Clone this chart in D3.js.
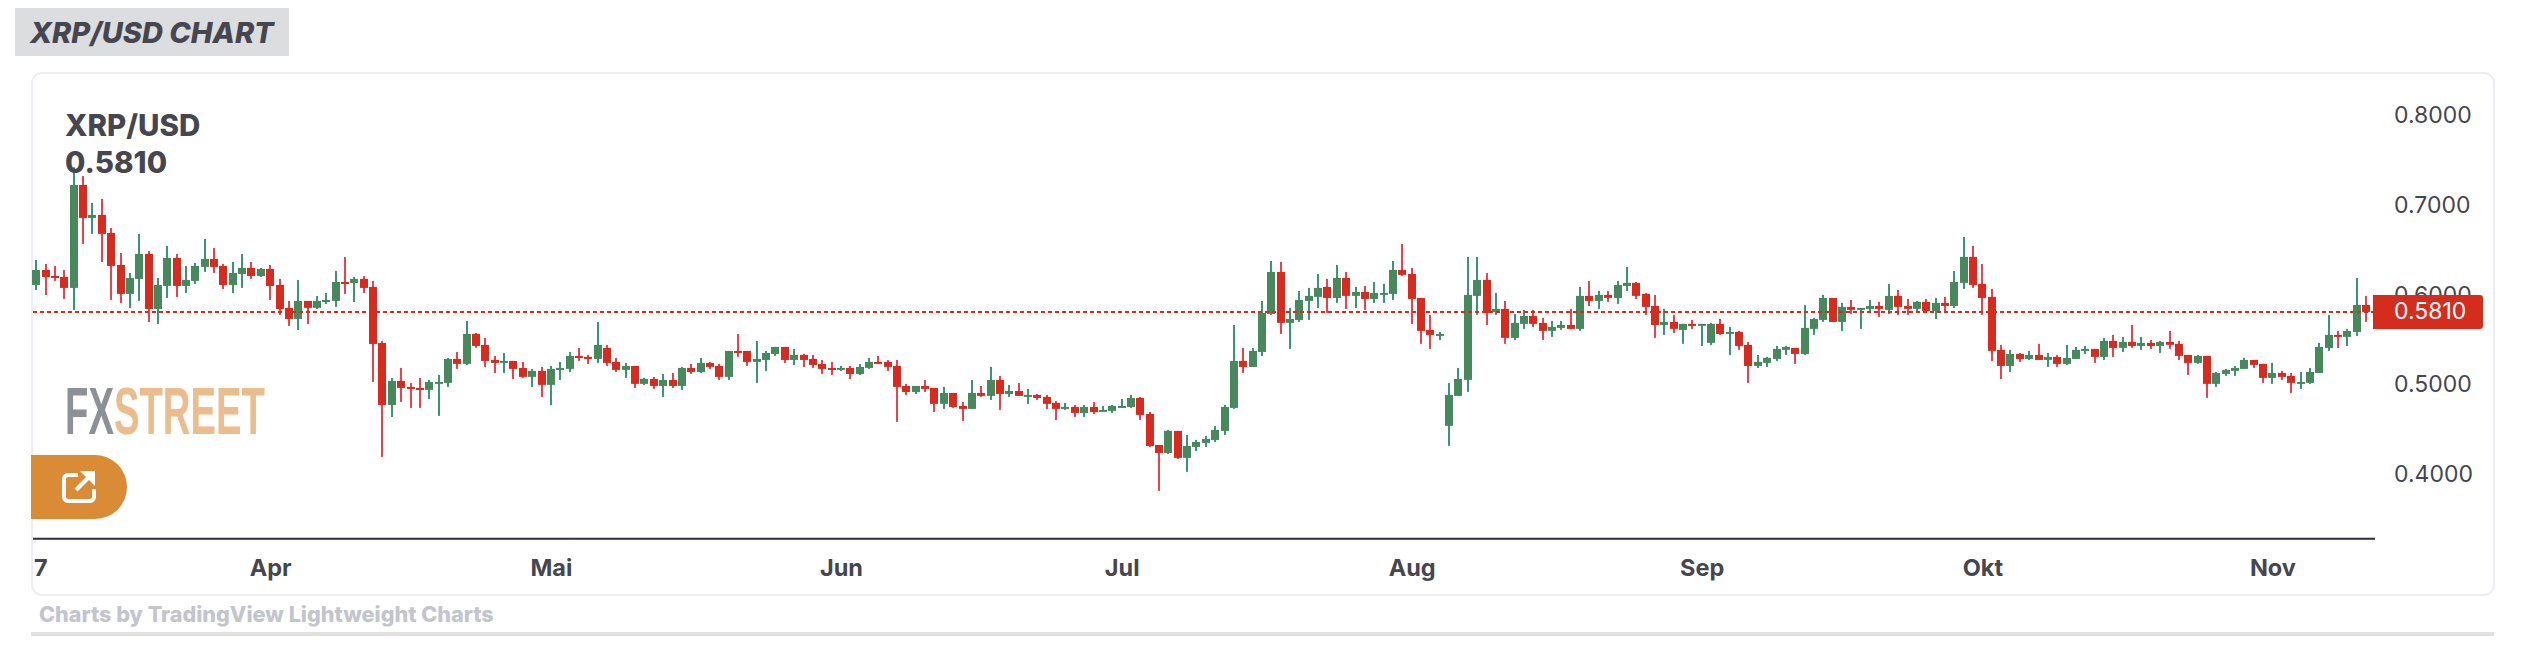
<!DOCTYPE html>
<html>
<head>
<meta charset="utf-8">
<title>XRP/USD chart</title>
<script src="https://cdn.jsdelivr.net/npm/d3@7"></script>
<style>
html,body{margin:0;padding:0;background:#fff;}
svg{display:block;}
text{font-family:Inter,"Liberation Sans",sans-serif;}
</style>
</head>
<body>
<svg width="2524" height="647"></svg>
<script>
var startDate = "2024-03-07";

// daily candles from 7 Mar
var opens = [
.6111,.6278,.6211,.6200,.6078,.7226,.6858,.6891,.6691,.6334,
.6011,.6178,.6457,.5843,.6100,.6412,.6100,.6156,.6312,.6401,
.6323,.6111,.6234,.6301,.6211,.6289,.6111,.5855,.5732,.5933,
.5855,.5921,.5933,.6144,.6133,.6178,.6089,.5464,.4773,.5041,
.4974,.4963,.4941,.5019,.5019,.5286,.5231,.5565,.5442,.5275,
.5242,.5264,.5186,.5086,.5153,.4997,.5164,.5175,.5320,.5309,
.5286,.5409,.5253,.5164,.5208,.5008,.5063,.4985,.5052,.4985,
.5186,.5141,.5242,.5208,.5086,.5375,.5375,.5253,.5275,.5342,
.5420,.5275,.5331,.5286,.5230,.5186,.5164,.5186,.5119,.5186,
.5253,.5253,.5208,.4985,.4918,.4985,.4963,.4785,.4907,.4762,
.4729,.4907,.4874,.5052,.4896,.4929,.4874,.4885,.4863,.4796,
.4729,.4751,.4684,.4751,.4707,.4707,.4751,.4751,.4851,.4673,
.4327,.4238,.4484,.4183,.4305,.4350,.4383,.4484,.4740,.5264,
.5197,.5364,.5788,.6256,.5688,.5721,.5933,.5978,.6089,.5966,
.6189,.5989,.6033,.5955,.6011,.6011,.6279,.6234,.5966,.5610,
.5554,.4540,.4874,.5052,.5989,.6167,.5810,.5844,.5521,.5677,
.5766,.5688,.5599,.5632,.5665,.5621,.5989,.5933,.6000,.5966,
.6100,.6134,.6011,.5877,.5665,.5699,.5610,.5677,.5665,.5465,
.5677,.5565,.5587,.5442,.5208,.5242,.5286,.5387,.5409,.5342,
.5621,.5721,.5966,.5699,.5866,.5833,.5844,.5877,.5833,.5989,
.5877,.5844,.5922,.5821,.5911,.5877,.6134,.6424,.6123,.5978,
.5387,.5208,.5342,.5286,.5331,.5275,.5309,.5231,.5286,.5376,
.5398,.5309,.5487,.5409,.5476,.5431,.5465,.5431,.5476,.5454,
.5331,.5242,.5320,.5008,.5119,.5153,.5175,.5275,.5231,.5075,
.5130,.5097,.5019,.5019,.5130,.5409,.5554,.5532,.5587,.5888
];
var highs = [
.6390,.6345,.6323,.6278,.7423,.7326,.7025,.7070,.6746,.6468,
.6245,.6680,.6490,.6189,.6546,.6457,.6323,.6356,.6624,.6523,
.6345,.6367,.6457,.6367,.6301,.6334,.6178,.5933,.6167,.5933,
.5988,.6022,.6267,.6423,.6200,.6211,.6156,.5487,.5074,.5186,
.5019,.5074,.5052,.5108,.5297,.5364,.5710,.5576,.5520,.5320,
.5353,.5264,.5253,.5175,.5197,.5208,.5253,.5364,.5409,.5331,
.5699,.5442,.5297,.5242,.5208,.5075,.5086,.5119,.5130,.5197,
.5231,.5297,.5253,.5231,.5375,.5565,.5375,.5487,.5375,.5420,
.5420,.5398,.5342,.5331,.5275,.5253,.5208,.5208,.5230,.5297,
.5320,.5275,.5275,.5008,.4985,.5052,.4963,.4974,.4907,.4807,
.5052,.4985,.5197,.5097,.4996,.5019,.4952,.4896,.4885,.4818,
.4796,.4773,.4773,.4807,.4762,.4773,.4840,.4885,.4863,.4695,
.4327,.4495,.4484,.4439,.4383,.4428,.4539,.4774,.5665,.5409,
.5409,.5933,.6379,.6368,.5855,.6044,.6078,.6234,.6178,.6334,
.6256,.6089,.6100,.6145,.6123,.6379,.6568,.6301,.5966,.5777,
.5587,.5017,.5186,.6424,.6424,.6245,.6022,.5933,.5788,.5833,
.5833,.5744,.5710,.5710,.5844,.6089,.6156,.6044,.6044,.6156,
.6312,.6145,.6022,.6000,.5844,.5777,.5677,.5721,.5665,.5688,
.5732,.5643,.5599,.5476,.5331,.5309,.5431,.5431,.5409,.5888,
.5744,.6000,.5966,.5911,.5944,.5855,.5944,.5922,.6123,.6056,
.5955,.5933,.5955,.5966,.5978,.6267,.6646,.6546,.6345,.6067,
.5443,.5387,.5353,.5376,.5454,.5353,.5331,.5443,.5420,.5431,
.5398,.5521,.5554,.5532,.5665,.5532,.5498,.5487,.5599,.5487,
.5331,.5331,.5320,.5142,.5175,.5208,.5298,.5275,.5231,.5242,
.5153,.5130,.5141,.5186,.5465,.5777,.5598,.5621,.6189,.5989
];
var lows = [
.6055,.5999,.6156,.5955,.5832,.6568,.6680,.6367,.5944,.5910,
.5855,.5933,.5698,.5676,.5966,.5977,.6022,.6122,.6256,.6245,
.6066,.6022,.6078,.6178,.6200,.5944,.5777,.5654,.5609,.5676,
.5843,.5899,.5866,.6011,.5921,.6022,.5030,.4194,.4639,.4807,
.4740,.4740,.4840,.4651,.4974,.5175,.5219,.5409,.5197,.5130,
.5130,.5063,.5075,.4974,.4863,.4773,.5052,.5141,.5264,.5231,
.5242,.5208,.5141,.5075,.4963,.4996,.4952,.4863,.4963,.4941,
.5119,.5130,.5175,.5052,.5052,.5309,.5208,.5019,.5153,.5320,
.5242,.5219,.5197,.5186,.5119,.5108,.5152,.5063,.5108,.5175,
.5230,.5152,.4584,.4885,.4896,.4918,.4695,.4729,.4740,.4595,
.4729,.4863,.4829,.4718,.4863,.4874,.4785,.4829,.4729,.4606,
.4718,.4640,.4640,.4673,.4707,.4684,.4740,.4740,.4606,.4305,
.3815,.4227,.4171,.4027,.4261,.4305,.4361,.4439,.4729,.5130,
.5197,.5320,.5777,.5565,.5398,.5699,.5721,.5855,.5799,.5911,
.5844,.5855,.5833,.5911,.5911,.5944,.6212,.5677,.5454,.5398,
.5498,.4317,.4874,.4919,.5777,.5665,.5777,.5454,.5498,.5621,
.5643,.5498,.5532,.5610,.5621,.5599,.5877,.5844,.5922,.5900,
.6044,.5955,.5777,.5521,.5554,.5576,.5454,.5621,.5431,.5442,
.5554,.5331,.5387,.5019,.5186,.5197,.5264,.5331,.5231,.5331,
.5554,.5699,.5699,.5599,.5788,.5621,.5810,.5755,.5788,.5777,
.5777,.5810,.5810,.5732,.5821,.5855,.6067,.6078,.5777,.5264,
.5063,.5142,.5253,.5275,.5275,.5197,.5197,.5220,.5286,.5342,
.5242,.5275,.5309,.5364,.5409,.5387,.5398,.5353,.5398,.5275,
.5108,.5231,.4852,.4974,.5097,.5097,.5175,.5186,.5019,.5008,
.5052,.4907,.4952,.5008,.5130,.5376,.5409,.5431,.5543,.5699
];
var closes = [
.6278,.6200,.6189,.6078,.7226,.6858,.6891,.6680,.6323,.6011,
.6189,.6457,.5843,.6111,.6412,.6100,.6167,.6323,.6401,.6312,
.6111,.6245,.6301,.6211,.6289,.6100,.5843,.5732,.5933,.5855,
.5933,.5944,.6144,.6133,.6178,.6078,.5453,.4773,.5041,.4963,
.4952,.4940,.5030,.5030,.5286,.5231,.5565,.5431,.5264,.5242,
.5264,.5175,.5086,.5153,.4997,.5175,.5186,.5320,.5297,.5286,
.5442,.5242,.5164,.5208,.5008,.5063,.4985,.5052,.4985,.5186,
.5141,.5242,.5197,.5086,.5375,.5364,.5253,.5286,.5353,.5420,
.5275,.5331,.5275,.5219,.5175,.5164,.5186,.5119,.5197,.5253,
.5242,.5197,.4974,.4918,.4985,.4952,.4785,.4907,.4751,.4729,
.4907,.4874,.5052,.4896,.4929,.4874,.4885,.4851,.4785,.4729,
.4751,.4684,.4751,.4695,.4718,.4762,.4762,.4851,.4662,.4316,
.4238,.4484,.4183,.4316,.4361,.4394,.4495,.4751,.5264,.5197,
.5376,.5799,.6256,.5688,.5732,.5944,.5989,.6078,.5966,.6189,
.5989,.6033,.5955,.6022,.6022,.6279,.6223,.5955,.5599,.5554,
.5565,.4885,.5063,.6000,.6167,.5799,.5844,.5521,.5688,.5766,
.5677,.5599,.5643,.5665,.5621,.5989,.5933,.6000,.5966,.6111,
.6134,.5989,.5866,.5665,.5699,.5621,.5677,.5654,.5677,.5677,
.5565,.5587,.5431,.5208,.5253,.5298,.5398,.5420,.5342,.5632,
.5732,.5966,.5699,.5866,.5833,.5855,.5877,.5844,.5989,.5866,
.5844,.5922,.5821,.5911,.5877,.6145,.6424,.6111,.5966,.5376,
.5208,.5342,.5286,.5331,.5275,.5309,.5231,.5298,.5387,.5398,
.5309,.5487,.5409,.5476,.5431,.5465,.5431,.5476,.5443,.5320,
.5242,.5320,.5008,.5130,.5164,.5186,.5275,.5220,.5075,.5130,
.5086,.5019,.5030,.5141,.5420,.5554,.5532,.5598,.5888,.5810
];

var priceTicks = [0.8, 0.7, 0.6, 0.5, 0.4];
var timeTicks = ["2024-03-07","2024-04-01","2024-05-01","2024-06-01","2024-07-01","2024-08-01","2024-09-01","2024-10-01","2024-11-01"];
var timeLabels = ["7","Apr","Mai","Jun","Jul","Aug","Sep","Okt","Nov"];
var lastPrice = 0.5810;

var upBody = "#47895d", upWick = "#3a9478", downBody = "#d72b20", downWick = "#e5434f";
var textColor = "#45464f";

var svg = d3.select("svg");
var parseDate = d3.utcParse("%Y-%m-%d");
var day0 = parseDate(startDate);

var x = d3.scaleUtc()
    .domain([day0, d3.utcDay.offset(day0, opens.length - 1)])
    .range([36.3, 2366]);
var y = d3.scaleLinear().domain([0.4, 0.8]).range([474.3, 115.5]);

// header tab
svg.append("rect").attr("x",15).attr("y",8).attr("width",274).attr("height",48).attr("fill","#dcddde");
svg.append("text").attr("x",30).attr("y",43)
    .style("font-size","29px").style("font-weight","800").style("font-style","italic")
    .attr("fill",textColor).text("XRP/USD CHART");

// card
svg.append("rect").attr("x",32).attr("y",73).attr("width",2462).attr("height",522).attr("rx",10)
    .attr("fill","#fff").attr("stroke","#eeeef2").attr("stroke-width",2);

// watermark
var logo = svg.append("text").attr("x",65).attr("y",434).attr("textLength",200).attr("lengthAdjust","spacingAndGlyphs")
    .style("font-family","'Liberation Sans',sans-serif").style("font-size","67px").style("font-weight","bold");
logo.append("tspan").attr("fill","#8d9095").text("FX");
logo.append("tspan").attr("fill","#ebbd8d").text("STREET");

// open chart button
svg.append("path").attr("d","M31,455H95A32,32 0 0 1 95,519H31Z").attr("fill","#d98b36");
var icon = svg.append("g").attr("fill","none").attr("stroke","#fff").attr("stroke-width",4);
icon.append("path").attr("d","M78,475H68A4,4 0 0 0 64,479V497A4,4 0 0 0 68,501H90A4,4 0 0 0 94,497V489");
icon.append("path").attr("d","M76,490L93,473");
svg.append("path").attr("d","M80,471H95V486Z").attr("fill","#fff");

// candles
var idx = d3.range(opens.length);
var candles = svg.append("g");
function dayX(i){ return Math.round(x(d3.utcDay.offset(day0, i))); }

candles.selectAll("rect.wick").data(idx).enter().append("rect").attr("class","wick")
    .attr("x",function(i){return dayX(i)-1;})
    .attr("width",2)
    .attr("y",function(i){return y(highs[i]);})
    .attr("height",function(i){return y(lows[i])-y(highs[i]);})
    .attr("fill",function(i){return closes[i]>=opens[i]?upWick:downWick;});

candles.selectAll("rect.body").data(idx).enter().append("rect").attr("class","body")
    .attr("x",function(i){return dayX(i)-4;})
    .attr("width",8)
    .attr("y",function(i){return y(Math.max(opens[i],closes[i]));})
    .attr("height",function(i){return Math.max(2,Math.abs(y(opens[i])-y(closes[i])));})
    .attr("fill",function(i){return closes[i]>=opens[i]?upBody:downBody;});

// last price line
svg.append("line").attr("x1",33).attr("x2",2373)
    .attr("y1",y(lastPrice)).attr("y2",y(lastPrice))
    .attr("stroke","#d72b20").attr("stroke-width",2).attr("stroke-dasharray","4 3");

// legend
var legend = svg.append("g").style("font-size","29.5px").style("font-weight","800").attr("fill",textColor);
legend.append("text").attr("x",65).attr("y",136).text("XRP/USD");
legend.append("text").attr("x",65).attr("y",173).text(lastPrice.toFixed(4));

// price axis
var yAxis = d3.axisRight(y).tickValues(priceTicks).tickFormat(d3.format(".4f")).tickSize(0).tickPadding(0);
var yg = svg.append("g").attr("transform","translate(2394,0)").call(yAxis);
yg.select(".domain").remove();
yg.selectAll("text").style("font-size","23px").attr("fill",textColor);

// last price label
svg.append("path").attr("d","M2373,295H2480A3,3 0 0 1 2483,298V326A3,3 0 0 1 2480,329H2373Z").attr("fill","#d42d1e");
svg.append("text").attr("x",2394).attr("y",y(lastPrice)).attr("dy","0.32em")
    .style("font-size","23px").attr("fill","#fff").text(lastPrice.toFixed(4));

// time axis
var xAxis = d3.axisBottom(x)
    .tickValues(timeTicks.map(parseDate))
    .tickFormat(function(d,i){return timeLabels[i];})
    .tickSize(0).tickPadding(0);
var xg = svg.append("g").attr("transform","translate(0,559)").call(xAxis);
xg.select(".domain").remove();
xg.selectAll("text").style("font-size","23.5px").style("font-weight","700").attr("fill",textColor);
xg.selectAll("text").filter(function(d,i){return i===0;}).attr("dx",4);

svg.append("line").attr("x1",33).attr("x2",2375).attr("y1",538.7).attr("y2",538.7)
    .attr("stroke","#2e2c45").attr("stroke-width",2);

// footer
svg.append("text").attr("x",39).attr("y",622)
    .style("font-size","21.6px").style("font-weight","800").attr("fill","#c3c4cd")
    .text("Charts by TradingView Lightweight Charts");
svg.append("rect").attr("x",31).attr("y",632).attr("width",2463).attr("height",4).attr("fill","#e0e0e0");
</script>
</body>
</html>
